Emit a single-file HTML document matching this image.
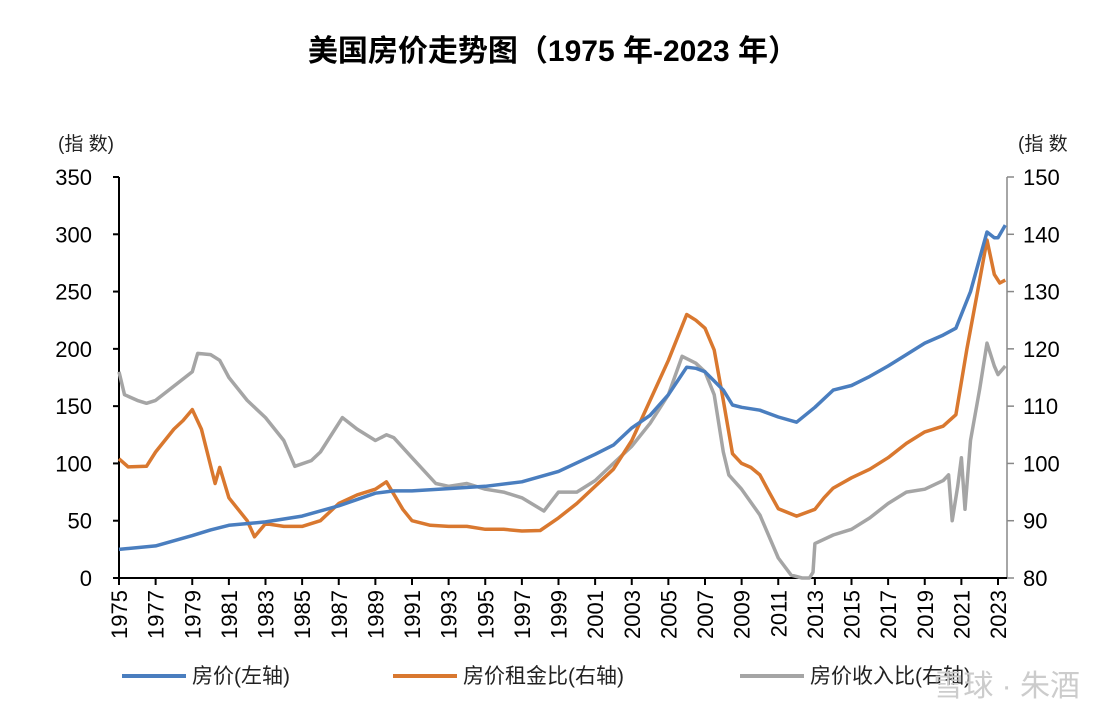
<!DOCTYPE html>
<html><head><meta charset="utf-8"><style>
body{margin:0;background:#fff;}
svg text{font-family:"Liberation Sans","Noto Sans CJK SC",sans-serif;}
</style></head><body>
<svg id="c" width="1107" height="717" xmlns="http://www.w3.org/2000/svg"></svg>
<script>
const years=[1975,1977,1979,1981,1983,1985,1987,1989,1991,1993,1995,1997,1999,2001,2003,2005,2007,2009,2011,2013,2015,2017,2019,2021,2023];
const leftTicks=[0,50,100,150,200,250,300,350];
const rightTicks=[80,90,100,110,120,130,140,150];
const priceT=[1975,1977,1979,1980,1981,1983,1985,1987,1989,1990,1991,1993,1995,1997,1999,2001,2002,2003,2004,2005,2006,2006.5,2007,2008,2008.5,2009,2010,2011,2012,2013,2014,2015,2016,2017,2018,2019,2020,2020.7,2021.5,2022.4,2022.8,2023,2023.4];
const priceV=[25,28,37,42,46,49,54,63,74,76,76,78,80,84,93,108,116,131,142,160,184,183,180,164,151,149,146.5,140.5,136,149,164,168,176,185,195,205,212,218,250,302,297,297,308];
const rentT=[1975,1975.5,1976.5,1977,1978,1978.5,1979,1979.5,1980.25,1980.5,1981,1982,1982.4,1983,1984,1985,1986,1987,1988,1989,1989.6,1990.5,1991,1992,1993,1994,1995,1996,1997,1998,1999,2000,2001,2002,2003,2004,2005,2006,2006.5,2007,2007.5,2008,2008.5,2009,2009.5,2010,2010.5,2011,2012,2013,2013.5,2014,2015,2016,2017,2018,2019,2020,2020.7,2021.3,2022,2022.4,2022.8,2023.1,2023.4];
const rentV=[100.8,99.4,99.5,102,106,107.5,109.4,106,96.5,99.3,94,90,87.2,89.5,89,89,90,93,94.5,95.5,96.8,92,90,89.2,89,89,88.5,88.5,88.2,88.3,90.5,93,96,99,104,111,118,126,125,123.6,119.8,111,101.7,100,99.3,98,95,92.1,90.8,92,94,95.7,97.5,99,101,103.5,105.5,106.5,108.5,120,132,139,133,131.5,132];
const incT=[1975,1975.3,1976,1976.5,1977,1978,1979,1979.3,1980,1980.5,1981,1982,1983,1984,1984.6,1985.5,1986,1987.2,1988,1989,1989.6,1990,1991,1992.3,1993,1994,1995,1996,1997,1998.2,1999,2000,2001,2002,2003,2004,2005,2005.75,2006.5,2007,2007.5,2008,2008.3,2009,2010,2011,2011.7,2012.3,2012.7,2012.9,2013,2014,2015,2016,2017,2018,2019,2020,2020.3,2020.5,2020.8,2021,2021.2,2021.5,2022,2022.4,2022.8,2023,2023.4];
const incV=[116,112,111,110.5,111,113.5,116,119.2,119,118,115,111,108,104,99.5,100.5,102,108,106,104,105,104.5,101,96.5,96,96.5,95.5,95,94,91.7,95,95,97,100,103,107,112,118.7,117.5,116,112,102,98,95.5,91,83.5,80.5,80,80,81,86,87.5,88.5,90.5,93,95,95.5,97,98,90,96,101,92,104,113,121,117,115.5,117];

const svg=document.getElementById('c');const NS='http://www.w3.org/2000/svg';
function el(t,a,txt){const e=document.createElementNS(NS,t);for(const k in a)e.setAttribute(k,a[k]);if(txt!=null)e.textContent=txt;svg.appendChild(e);return e;}
const X0=119,X1=998,YT=177,YB=578,RX=1007;
const x=t=>X0+(t-1975)*(X1-X0)/48;
const yL=v=>YB-v*(YB-YT)/350;
const yR=v=>YB-(v-80)*(YB-YT)/70;

let e=el('text',{x:553,y:61,'text-anchor':'middle','font-size':30,'font-weight':'bold',fill:'#000'},'美国房价走势图（1975 年-2023 年）');

e=el('text',{x:58,y:150,'font-size':19,fill:'#222'},'(指 数)');

e=el('text',{x:1018,y:150,'font-size':19,fill:'#222'},'(指 数');


e=el('line',{x1:X0,y1:YT,x2:X0,y2:YB,stroke:'#000','stroke-width':2});

e=el('line',{x1:RX,y1:YT,x2:RX,y2:YB,stroke:'#888','stroke-width':1.5});

e=el('line',{x1:X0,y1:YB,x2:RX,y2:YB,stroke:'#000','stroke-width':2});


leftTicks.forEach(v=>{
  let t=el('line',{x1:X0-6,y1:yL(v),x2:X0,y2:yL(v),stroke:'#000','stroke-width':2});
  
  t=el('text',{x:92,y:yL(v)+8,'text-anchor':'end','font-size':22,fill:'#000'},v);
  
});
rightTicks.forEach(v=>{
  let t=el('line',{x1:RX,y1:yR(v),x2:RX+7,y2:yR(v),stroke:'#888','stroke-width':1.5});
  
  t=el('text',{x:1023,y:yR(v)+8,'font-size':22,fill:'#000'},v);
  
});
years.forEach(yr=>{
  const px=x(yr);
  let t=el('line',{x1:px,y1:YB,x2:px,y2:YB+7,stroke:'#000','stroke-width':2});
  
  t=el('text',{x:0,y:0,transform:`translate(${px+8},${YB+12}) rotate(-90)`,'text-anchor':'end','font-size':22,fill:'#000'},yr);
  
});
function line(T,V,fy,col,name){
  const d=T.map((t,i)=>(i?'L':'M')+x(t).toFixed(1)+','+fy(V[i]).toFixed(1)).join('');
  const p=el('path',{d,fill:'none',stroke:col,'stroke-width':3.5,'stroke-linejoin':'round'});
  
}
line(incT,incV,yR,'#a5a5a5','series-price-income');
line(rentT,rentV,yR,'#d9782f','series-price-rent');
line(priceT,priceV,yL,'#4a7ebf','series-price');

const leg=[['房价(左轴)','#4a7ebf',122],['房价租金比(右轴)','#d9782f',393],['房价收入比(右轴)','#a5a5a5',740]];
leg.forEach(l=>{
  let t=el('line',{x1:l[2],y1:676,x2:l[2]+64,y2:676,stroke:l[1],'stroke-width':4});
  
  t=el('text',{x:l[2]+70,y:683,'font-size':21,fill:'#222','font-family':'"Noto Serif CJK SC",serif'},l[0]);
  
});
e=el('text',{x:1080,y:696,'text-anchor':'end','font-size':30,fill:'#ccc'},'雪球 · 朱酒');

</script>
</body></html>
